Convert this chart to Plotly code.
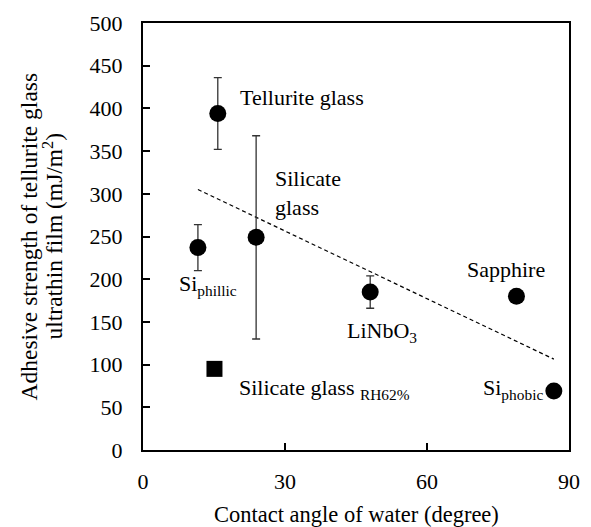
import numpy as np
import plotly.graph_objects as go

# Data
names = ["Tellurite glass", "Si phillic", "Silicate glass", "LiNbO3", "Sapphire", "Si phobic"]
angle = [15.8, 11.6, 23.9, 48.0, 78.9, 86.8]
strength = [394, 237, 249, 185, 180, 69]
err = [42, 27, 119, 19, 5, 0]

rh_angle = [15.1]
rh_strength = [95]

x_ticks = [0, 30, 60, 90]
y_ticks = list(range(0, 501, 50))

FONT = "Liberation Serif, serif"

fig = go.Figure()

# trend line (linear fit over circle points)
slope, intercept = np.polyfit(angle, strength, 1)
xl = np.array([min(angle), max(angle)])
fig.add_trace(go.Scatter(x=xl.tolist(), y=(slope * xl + intercept).tolist(), mode="lines",
                         line=dict(color="black", width=1.2, dash="4px,3px"),
                         showlegend=False, hoverinfo="skip"))

fig.add_trace(go.Scatter(x=angle, y=strength, mode="markers",
                         marker=dict(symbol="circle", size=17, color="black"),
                         error_y=dict(type="data", array=err, visible=True,
                                      color="#333333", thickness=1.3, width=4),
                         showlegend=False))

fig.add_trace(go.Scatter(x=rh_angle, y=rh_strength, mode="markers",
                         marker=dict(symbol="square", size=16, color="black"),
                         showlegend=False))

labels = [
    (20.1, 413, "Tellurite glass"),
    (27.4, 301, "Silicate<br>glass"),
    (7.1, 193, "Si<sub>phillic</sub>"),
    (19.8, 71, "Silicate glass <sub>RH62%</sub>"),
    (42.7, 138, "LiNbO<sub>3</sub>"),
    (68.0, 211, "Sapphire"),
]
annotations = []
for x, y, t in labels:
    annotations.append(dict(x=x, y=y, xref="x", yref="y", text=t, showarrow=False,
                            xanchor="left", yanchor="middle", align="left",
                            font=dict(family=FONT, size=22, color="#000000")))
annotations.append(dict(x=85.0, y=72, xref="x", yref="y", text="Si<sub>phobic</sub>",
                        showarrow=False, xanchor="right", yanchor="middle",
                        font=dict(family=FONT, size=22, color="#000000")))

# axis titles
annotations.append(dict(x=0.5, y=-0.152, xref="paper", yref="paper",
                        text="Contact angle of water (degree)", showarrow=False,
                        xanchor="center", yanchor="middle",
                        font=dict(family=FONT, size=22.5, color="#000000")))
annotations.append(dict(x=(28 - 143) / 426, y=0.50, xref="paper", yref="paper",
                        text="Adhesive strength of tellurite glass", showarrow=False,
                        textangle=-90, xanchor="center", yanchor="middle",
                        font=dict(family=FONT, size=23.5, color="#000000")))
annotations.append(dict(x=(52 - 143) / 426, y=0.50, xref="paper", yref="paper",
                        text="ultrathin film (mJ/m<sup>2</sup>)", showarrow=False,
                        textangle=-90, xanchor="center", yanchor="middle",
                        font=dict(family=FONT, size=23.5, color="#000000")))

axis_common = dict(showgrid=False, zeroline=False, showline=True, linecolor="black",
                   linewidth=2.3, mirror=True, ticks="inside", ticklen=7,
                   tickwidth=2, tickcolor="black",
                   tickfont=dict(family=FONT, size=22, color="#000000"))

fig.update_layout(
    width=591, height=527,
    margin=dict(l=143, r=22, t=23, b=77),
    paper_bgcolor="white", plot_bgcolor="white",
    font=dict(family=FONT, size=22, color="#000000"),
    xaxis=dict(range=[0, 90], tickvals=x_ticks, ticktext=[str(v) for v in x_ticks],
               ticklabelstandoff=10, **axis_common),
    yaxis=dict(range=[0, 500], tickvals=y_ticks, ticktext=[str(v) for v in y_ticks],
               ticklabelstandoff=14, **axis_common),
    annotations=annotations,
    showlegend=False,
)

fig.write_html("out.html")
